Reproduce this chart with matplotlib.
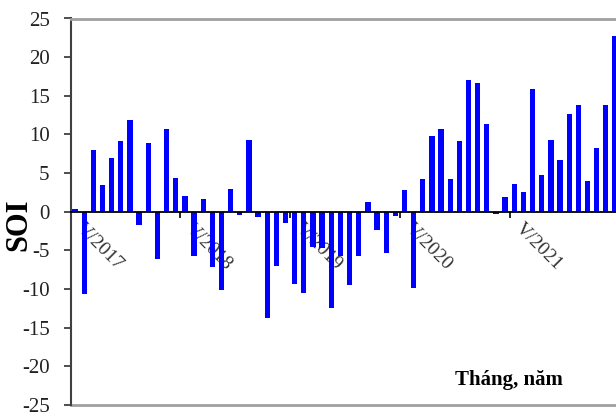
import matplotlib
matplotlib.use("Agg")
import matplotlib.pyplot as plt
import matplotlib.transforms as mtransforms
import numpy as np

# Monthly SOI, V/2017 .. IV/2022
soi = [0.4, -10.6, 8.0, 3.4, 7.0, 9.2, 11.9, -1.7, 8.9, -6.1, 10.7, 4.4,
       2.1, -5.7, 1.7, -7.2, -10.1, 2.9, -0.4, 9.3, -0.7, -13.8, -7.0, -1.4,
       -9.3, -10.5, -4.6, -4.7, -12.4, -5.7, -9.5, -5.7, 1.3, -2.3, -5.4, -0.6,
       2.8, -9.8, 4.3, 9.8, 10.7, 4.3, 9.2, 17.0, 16.6, 11.4, -0.3, 1.9,
       3.6, 2.5, 15.9, 4.7, 9.3, 6.7, 12.6, 13.8, 4.0, 8.3, 13.8, 22.8]
year_labels = ["V/2017", "V/2018", "V/2019", "V/2020", "V/2021"]
yticks = [25, 20, 15, 10, 5, 0, -5, -10, -15, -20, -25]
ylabel = "SOI"
xlabel = "Tháng, năm"

W, H = 616, 417
fig = plt.figure(figsize=(W / 100, H / 100), dpi=100)
serif = ["Liberation Serif", "DejaVu Serif"]
plt.rcParams['font.family'] = serif

left, right, top, bottom = 70.5, 619.5, 18.5, 405.0
ax = fig.add_axes([left / W, 1 - bottom / H, (right - left) / W, (bottom - top) / H])

x = np.arange(len(soi))
ax.bar(x, soi, width=0.58, color="#0000ff", zorder=2)

ax.set_xlim(-0.5, len(soi) - 0.5)
ax.set_ylim(-25, 25)
ax.set_yticks(yticks)
ax.set_yticklabels([str(v) for v in yticks], fontsize=15, color="#222222")
ax.tick_params(axis='y', direction='out', length=5, width=1.3, color="#404040", pad=10)

# x axis drawn at zero
ax.spines['bottom'].set_position(('data', 0))
ax.spines['bottom'].set_color('black')
ax.spines['bottom'].set_linewidth(1.3)
ax.spines['bottom'].set_zorder(3)
ax.spines['left'].set_color('#404040')
ax.spines['left'].set_linewidth(1.5)
ax.spines['top'].set_color('#a0a0a0')
ax.spines['top'].set_linewidth(2)
ax.spines['right'].set_visible(False)
ax.axhline(-25, color='#a0a0a0', lw=2, clip_on=False)

n_years = len(year_labels)
bounds = [12 * k - 0.5 for k in range(1, n_years)]
ax.set_xticks(bounds)
ax.set_xticklabels([])
ax.tick_params(axis='x', direction='out', length=4, width=1.2, color='black')

offset = mtransforms.ScaledTranslation(3.5 / 100, -14 / 100, fig.dpi_scale_trans)
for k, lab in enumerate(year_labels):
    ax.text(12 * k, 0, lab, rotation=-45, rotation_mode='anchor', ha='left', va='center',
            fontsize=14, color='#333333', transform=ax.transData + offset, zorder=1)

fig.text(19 / W, 1 - 225 / H, ylabel, rotation=90, ha='center', va='center',
         fontsize=22, fontweight='bold', color='black')
fig.text(455 / W, 1 - 385 / H, xlabel, ha='left', va='baseline',
         fontsize=15, fontweight='bold', color='black')

fig.savefig("out.png", dpi=100)
